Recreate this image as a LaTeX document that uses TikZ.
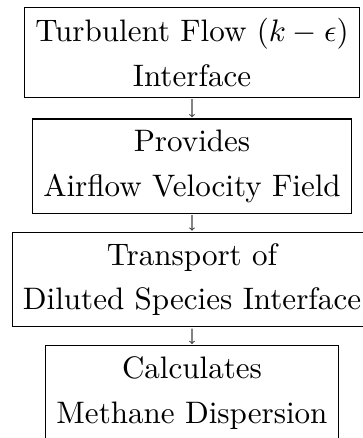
\documentclass[tikz,border=0pt]{standalone}
\tikzset{
  stagebox/.style={draw, line width=1.1pt, align=center, inner xsep=3.5pt, inner ysep=3.5pt,
    font=\fontsize{10}{14.4}\selectfont, scale=3.107, anchor=north},
  flowarrow/.style={->, line width=1.1pt, draw=black!75}
}
\begin{document}
\begin{tikzpicture}
\useasboundingbox (0,0) rectangle (363pt,-438pt);
\clip (0,0) rectangle (363pt,-438pt);
\node[stagebox] (b1) at (192pt,-5.7pt) {Turbulent Flow ($k-\epsilon$)\\Interface};
\node[stagebox] (b2) at (192pt,-117.3pt) {Provides\\Airflow Velocity Field};
\node[stagebox] (b3) at (192pt,-230.7pt) {Transport of\\Diluted Species Interface};
\node[stagebox] (b4) at (192pt,-344pt) {Calculates\\Methane Dispersion};
\draw[flowarrow] (b1) -- (b2);
\draw[flowarrow] (b2) -- (b3);
\draw[flowarrow] (b3) -- (b4);
\end{tikzpicture}
\end{document}
